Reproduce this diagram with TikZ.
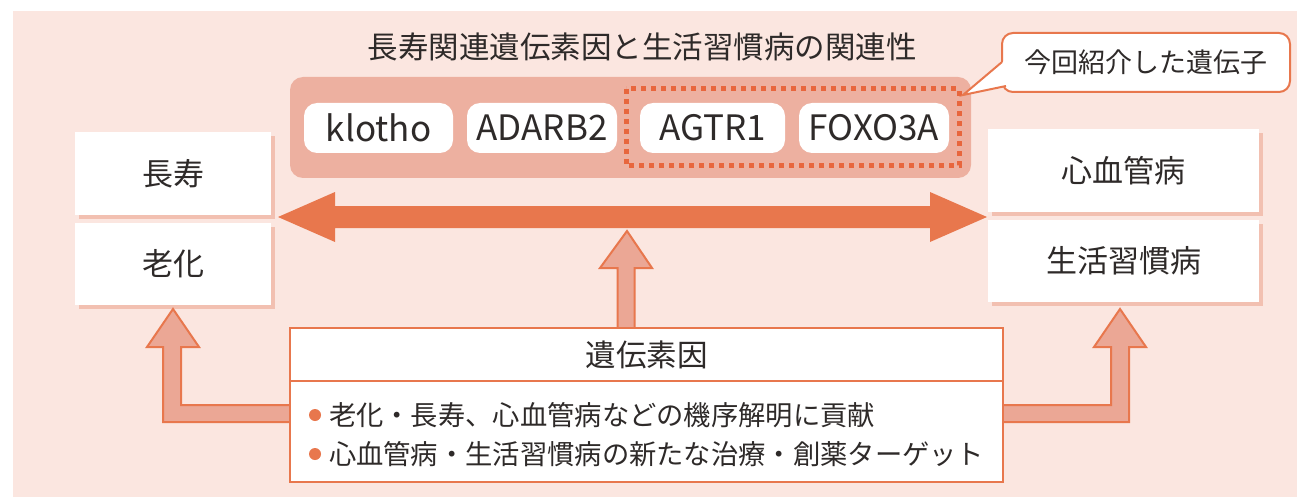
\documentclass[tikz,border=0pt]{standalone}
\usepackage{fontspec}
\setmainfont{Noto Sans CJK JP}
\usetikzlibrary{shadows}
\definecolor{pinkbg}{HTML}{FBE6E0}
\definecolor{bandc}{HTML}{EDB0A0}
\definecolor{orangec}{HTML}{E8774D}
\definecolor{dotc}{HTML}{E8663D}
\definecolor{salmonc}{HTML}{EBA795}
\definecolor{shadowc}{HTML}{F2BCAC}
\definecolor{textc}{HTML}{2E2A29}
\tikzset{
  every node/.style={text=textc, inner sep=0pt, outer sep=0pt},
  sidebox/.style={fill=white, minimum height=82pt,
    drop shadow={shadow xshift=4pt, shadow yshift=-4pt, fill=shadowc, opacity=0.9},
    font=\fontsize{31}{35}\selectfont},
  pill/.style={fill=white, rounded corners=13pt, minimum height=50pt,
    font=\fontsize{35}{40}\selectfont},
  blockarrow/.style={fill=salmonc, draw=orangec, line width=2pt, line join=miter},
  bullettext/.style={anchor=west, font=\fontsize{27.3}{31}\selectfont},
  bulletdot/.style={circle, fill=orangec, minimum size=12pt},
}
\begin{document}
\begin{tikzpicture}[x=1pt, y=-1pt]
\useasboundingbox (0,0) rectangle (1297,497);
\fill[pinkbg] (13,11) rectangle (1297,497);

% title
\node[font=\fontsize{30.5}{34}\selectfont] (title) at (642,47) {長寿関連遺伝素因と生活習慣病の関連性};

% gene band
\fill[bandc, rounded corners=13pt] (290,77) rectangle (971,178);
\node[pill, minimum width=149pt] (klotho) at (378.5,128) {klotho};
\node[pill, minimum width=150pt] (adarb2) at (542,128) {ADARB2};
\node[pill, minimum width=145pt] (agtr1) at (712.5,128) {AGTR1};
\node[pill, minimum width=150pt] (foxo3a) at (874,128) {FOXO3A};
\draw[dotc, line width=5pt, dash pattern=on 5pt off 5pt] (626,89) rectangle (959,166);

% callout
\node[fill=white, draw=orangec, line width=2pt, rounded corners=11pt,
  minimum width=288pt, minimum height=59pt, font=\fontsize{27}{30}\selectfont]
  (callout) at (1146,62.5) {今回紹介した遺伝子};
\coordinate (tip) at (963,95);
\fill[white] (1004,61) -- (tip) -- (1007,86.5) -- (1009,86) -- (1009,61) -- cycle;
\draw[orangec, line width=2pt, line join=miter] (1002,62) -- (tip) -- (1006,86);

% side boxes
\node[sidebox, minimum width=196pt, minimum height=83pt] (choju) at (173,173.5) {長寿};
\node[sidebox, minimum width=196pt] (roka) at (173,264) {老化};
\node[sidebox, minimum width=271pt, minimum height=83pt] (shinkekkan) at (1123.5,170.5) {心血管病};
\node[sidebox, minimum width=271pt] (seikatsu) at (1123.5,261) {生活習慣病};

% double arrow
\fill[orangec] (278,217) -- (335,192) -- (335,206) -- (930,206) -- (930,192)
  -- (987,217) -- (930,242) -- (930,228) -- (335,228) -- (335,242) -- cycle;

% up arrows
\draw[blockarrow] (627,231) -- (652,268) -- (634.5,268) -- (634.5,328) -- (617.5,328)
  -- (617.5,268) -- (600,268) -- cycle;
\draw[blockarrow] (173,309) -- (199,347) -- (181,347) -- (181,405) -- (292,405)
  -- (292,422) -- (163,422) -- (163,347) -- (147,347) -- cycle;
\draw[blockarrow] (1120,309) -- (1146,347) -- (1129,347) -- (1129,422) -- (1001,422)
  -- (1001,405) -- (1111,405) -- (1111,347) -- (1094,347) -- cycle;

% central box
\node[fill=white, draw=orangec, line width=2pt, minimum width=713pt, minimum height=154pt]
  (factor) at (646.5,405) {};
\draw[orangec, line width=2pt] (factor.west |- 0,381) -- (factor.east |- 0,381);
\node[font=\fontsize{30.5}{34}\selectfont] (factorlabel) at (646.5,355) {遺伝素因};
\node[bulletdot] (b1) at (315,415) {};
\node[bullettext] (t1) at (329,415) {老化・長寿、心血管病などの機序解明に貢献};
\node[bulletdot] (b2) at (315,454) {};
\node[bullettext] (t2) at (329,454) {心血管病・生活習慣病の新たな治療・創薬ターゲット};
\end{tikzpicture}
\end{document}
